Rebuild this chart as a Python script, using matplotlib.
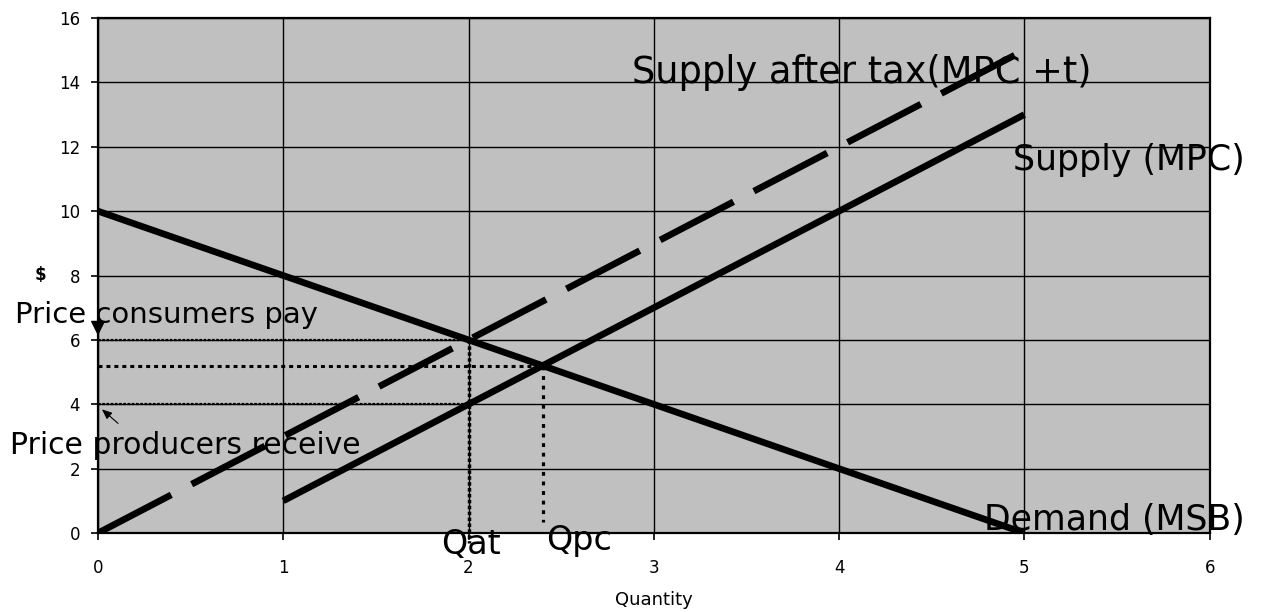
import matplotlib.pyplot as plt

# demand and supply schedules
q_demand = [0, 1, 2, 3, 4, 5]
p_demand = [10, 8, 6, 4, 2, 0]
q_supply = [1, 2, 3, 4, 5]
p_supply = [1, 4, 7, 10, 13]
q_tax = [0, 1, 2, 3, 4, 5]
p_tax = [0, 3, 6, 9, 12, 15]

# outcomes after tax and at competitive equilibrium
q_at = 2
p_consumers = 6
p_producers = 4
q_pc = 2.4
p_pc = 5.2

x_ticks = [0, 1, 2, 3, 4, 5, 6]
y_ticks = [0, 2, 4, 6, 8, 10, 12, 14, 16]

fig = plt.figure(figsize=(12.64, 6.12), dpi=100)
ax = fig.add_axes([0.0775, 0.129, 0.8795, 0.8416])
ax.set_facecolor('#c0c0c0')
ax.set_xlim(0, 6)
ax.set_ylim(0, 16)
ax.set_xticks(x_ticks)
ax.set_yticks(y_ticks)
ax.grid(True, color='black', linewidth=1.0)
ax.set_axisbelow(True)
for s in ax.spines.values():
    s.set_linewidth(1.6)
ax.tick_params(direction='out', length=5, width=1.2, labelsize=12)
ax.tick_params(axis='x', pad=14)
ax.tick_params(axis='y', pad=8)

# curves
ax.plot(q_demand, p_demand, color='black', lw=4.8, solid_capstyle='butt', zorder=4)
ax.plot(q_supply, p_supply, color='black', lw=4.8, solid_capstyle='butt', zorder=4)
l, = ax.plot(q_tax, p_tax, color='black', lw=4.8, zorder=4)
l.set_dashes((12.4, 3.45))
l.set_dash_capstyle('butt')

# guide lines
ax.plot([0, q_at], [p_consumers, p_consumers], color='black', lw=1.6, ls=(0, (1.2, 0.7)), zorder=3)
ax.plot([0, q_at], [p_producers, p_producers], color='black', lw=1.6, ls=(0, (1.2, 0.7)), zorder=3)
ax.plot([0, q_pc], [p_pc, p_pc], color='black', lw=2.2, ls=(0, (1.3, 1.3)), zorder=3)
ax.plot([q_at, q_at], [p_consumers, -0.3], color='black', lw=2.5, ls=(0, (1.0, 0.7)),
        zorder=3, clip_on=False)
ax.plot([q_pc, q_pc], [p_pc, 0.35], color='black', lw=2.3, ls=(0, (1.2, 1.8)), zorder=3)

# labels
ax.text(2.88, 14.32, 'Supply after tax(MPC +t)', fontsize=26.5, va='center', zorder=6)
ax.text(4.94, 11.59, 'Supply (MPC)', fontsize=25, va='center', zorder=6)
ax.text(4.78, 0.40, 'Demand (MSB)', fontsize=25, va='center', zorder=6)
ax.text(1.85, -0.37, 'Qat', fontsize=24, va='center', zorder=6)
ax.text(2.42, -0.22, 'Qpc', fontsize=24, va='center', zorder=6)
ax.text(-0.448, 6.77, 'Price consumers pay', fontsize=21, va='center', zorder=6)
ax.text(-0.475, 2.73, 'Price producers receive', fontsize=21.5, va='center', zorder=6)

ax.annotate('', xy=(0, p_consumers + 0.05), xytext=(0, p_consumers + 0.55),
            arrowprops=dict(arrowstyle='-|>,head_length=0.9,head_width=0.45',
                            color='black', lw=1), annotation_clip=False, zorder=7)
ax.annotate('', xy=(0.01, p_producers - 0.1), xytext=(0.12, p_producers - 0.65),
            arrowprops=dict(arrowstyle='-|>,head_length=0.6,head_width=0.25',
                            color='black', lw=0.8), annotation_clip=False, zorder=7)

fig.text(654 / 1264, 1 - 600 / 612, 'Quantity', fontsize=13, ha='center', va='center')
fig.text(40 / 1264, 1 - 275 / 612, '\\$', fontsize=12, fontweight='bold', ha='center', va='center')

fig.savefig('out.png', dpi=100)
